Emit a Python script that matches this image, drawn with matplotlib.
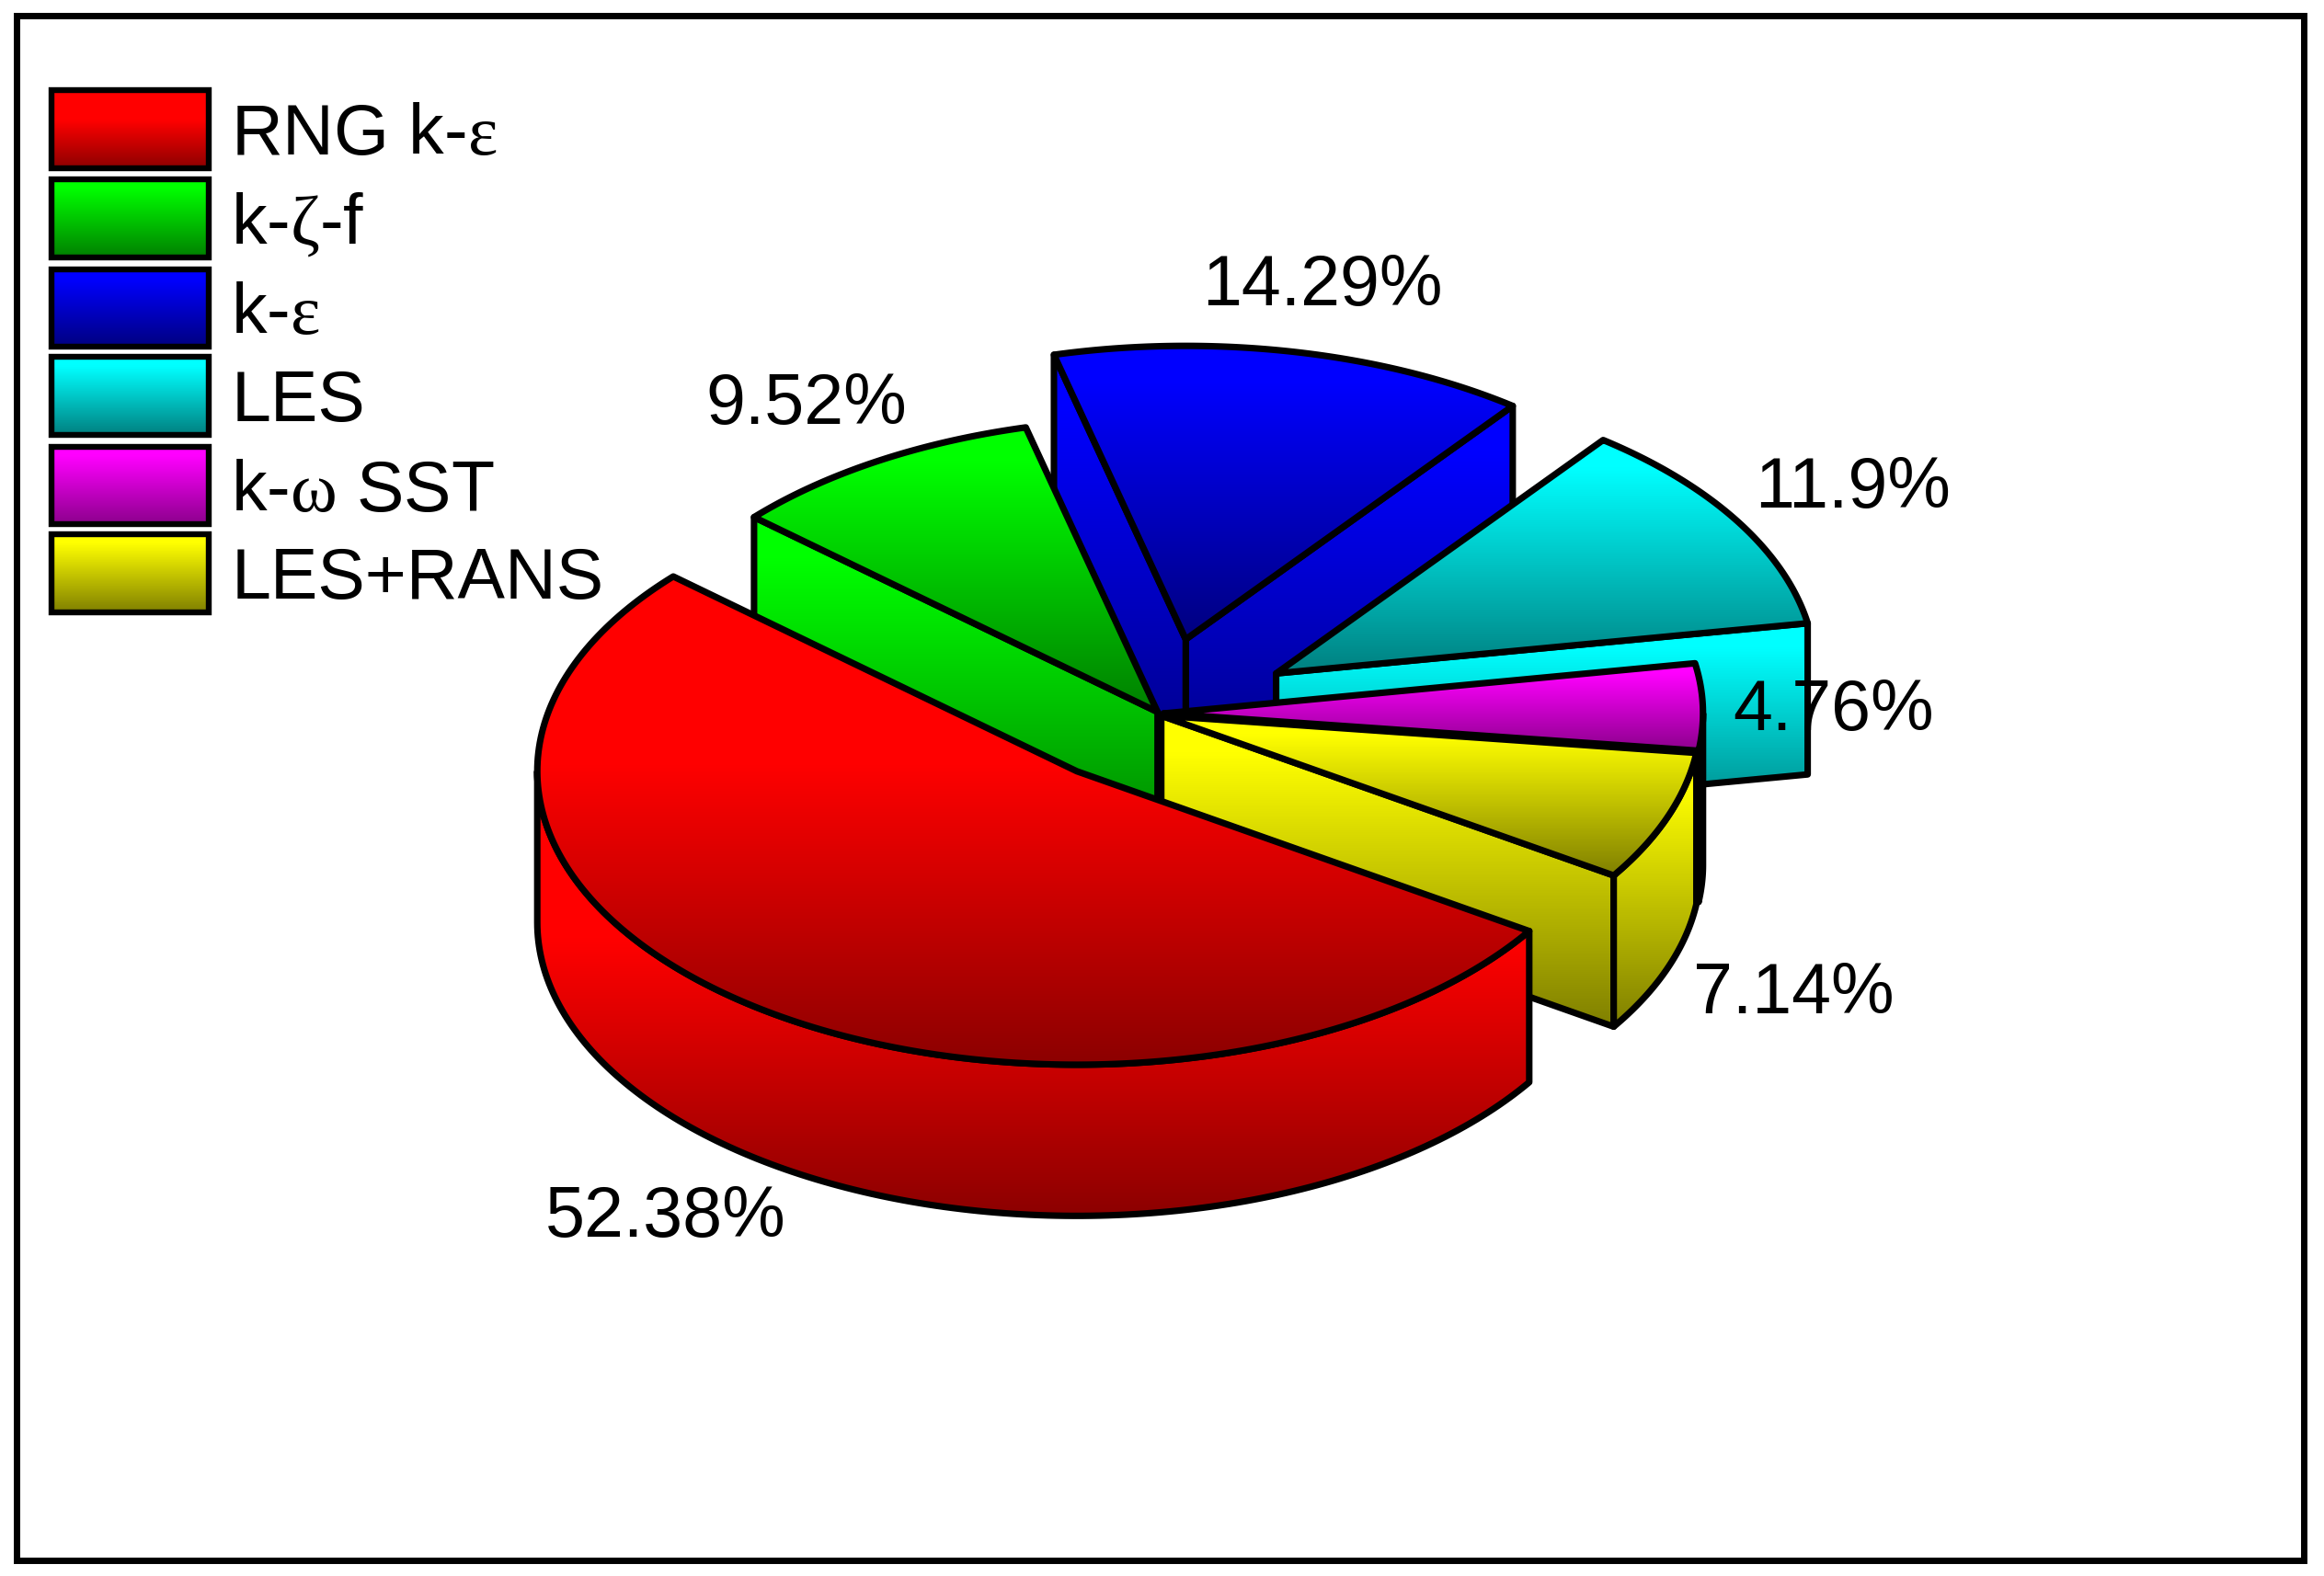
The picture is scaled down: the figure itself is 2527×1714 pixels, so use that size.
import numpy as np
import matplotlib
matplotlib.use("Agg")
import matplotlib.pyplot as plt
from matplotlib.patches import Polygon, Rectangle

plt.rcParams['font.family'] = ['Liberation Sans', 'DejaVu Sans']
plt.rcParams['mathtext.fontset'] = 'custom'
plt.rcParams['mathtext.rm'] = 'Liberation Serif'
plt.rcParams['mathtext.it'] = 'Liberation Serif'
plt.rcParams['mathtext.default'] = 'rm'

# ---- data ----
categories = [r"RNG k-$\mathrm{ε}$", r"k-$\mathrm{ζ}$-f", r"k-$\mathrm{ε}$", "LES",
              r"k-$\mathrm{ω}$ SST", "LES+RANS"]
values = [52.38, 9.52, 14.29, 11.9, 4.76, 7.14]
value_labels = ["52.38%", "9.52%", "14.29%", "11.9%", "4.76%", "7.14%"]
colors = [(1, 0, 0), (0, 1, 0), (0, 0, 1), (0, 1, 1), (1, 0, 1), (1, 1, 0)]

# ---- layout (coordinates of a 1568 x 1064 canvas) ----
W, H = 2527, 1715
centers = [(726.5, 521), (781, 481), (800, 432), (861, 455), (785, 482), (783.5, 483.5)]
label_pos = [(449, 822), (544, 273), (892, 193), (1250, 330), (1237, 480), (1210, 671)]
RX, RY, DEPTH = 364, 198, 102
START = 327.0
LW = 5.1
FS = 55.5
flat_part = [0.38, 0.12, 0.12, 0.12, 0.12, 0.12]
dark_end = [0.55, 0.5, 0.5, 0.5, 0.55, 0.5]

fig = plt.figure(figsize=(W / 100, H / 100), dpi=100)
ax = fig.add_axes([0, 0, 1, 1])
ax.set_xlim(0, 1568)
ax.set_ylim(1064, 0)
ax.axis("off")

z = [10]


def shaded(pts, idx, lw=LW, join="round"):
    pts = np.asarray(pts, dtype=float)
    z[0] += 1
    patch = Polygon(pts, closed=True, facecolor="none", edgecolor="none", zorder=z[0])
    ax.add_patch(patch)
    f = np.linspace(0, 1, 256)
    level = np.interp(f, [0, flat_part[idx], 1], [1, 1, dark_end[idx]])
    grad = level[:, None, None] * np.array(colors[idx])[None, None, :]
    extent = (pts[:, 0].min(), pts[:, 0].max(), pts[:, 1].max(), pts[:, 1].min())
    im = ax.imshow(grad, extent=extent, aspect="auto", interpolation="bilinear",
                   origin="upper", zorder=z[0])
    im.set_clip_path(patch)
    z[0] += 1
    ax.add_patch(Polygon(pts, closed=True, facecolor="none", edgecolor="black",
                         linewidth=lw, joinstyle=join, zorder=z[0]))


def rim(c, t):
    t = np.radians(t)
    return np.column_stack([c[0] + RX * np.cos(t), c[1] - RY * np.sin(t)])


def side(c, a, b):
    """outer wall between angles a and b"""
    top = rim(c, np.linspace(a, b, 160))
    low = top + [0, DEPTH]
    return np.vstack([top, low[::-1]])


def radial(c, t):
    p = rim(c, [t])[0]
    return [c, p, (p[0], p[1] + DEPTH), (c[0], c[1] + DEPTH)]


# slice angles: clockwise from START, in category order
spans = []
t = START
for v in values:
    d = v / sum(values) * 360
    spans.append((t - d, t))
    t -= d

draw_order = [2, 1, 3, 4, 5, 0]
for i in draw_order:
    a, b = spans[i]
    c = centers[i]
    if np.cos(np.radians(a)) > 0:
        shaded(radial(c, a), i)
    if np.cos(np.radians(b)) < 0:
        shaded(radial(c, b), i)
    # front part of the wall (angles 180..360)
    aa, bb = a % 360, (a % 360) + (b - a)
    lo, hi = max(aa, 180), min(bb, 360)
    if hi > lo:
        shaded(side(c, lo, hi), i)
    top = np.vstack([[c], rim(c, np.linspace(a, b, 200))])
    shaded(top, i)

for lab, (x, y) in zip(value_labels, label_pos):
    ax.text(x, y, lab, fontsize=FS, ha="center", va="center", color="black", zorder=200)

# legend
box_x0, box_x1 = 35, 141
box_y = [(61.5, 114), (121.5, 174.5), (182.5, 234.5), (241.5, 294), (302, 354.5), (361, 414)]
for k, (cat, (y0, y1)) in enumerate(zip(categories, box_y)):
    shaded([(box_x0, y0), (box_x1, y0), (box_x1, y1), (box_x0, y1)], k, lw=4.6, join="miter")
    ax.text(156, (y0 + y1) / 2 + 16.5, cat, fontsize=FS, ha="left", va="baseline",
            color="black", zorder=200)

ax.add_patch(Rectangle((11.2, 11.4), 1554.2 - 11.2, 1053.5 - 11.4, facecolor="none",
                       edgecolor="black", linewidth=5.0, joinstyle="miter", zorder=300))
ax.set_xlim(0, 1568)
ax.set_ylim(1064, 0)
fig.savefig("out.png", dpi=100, facecolor="white")
